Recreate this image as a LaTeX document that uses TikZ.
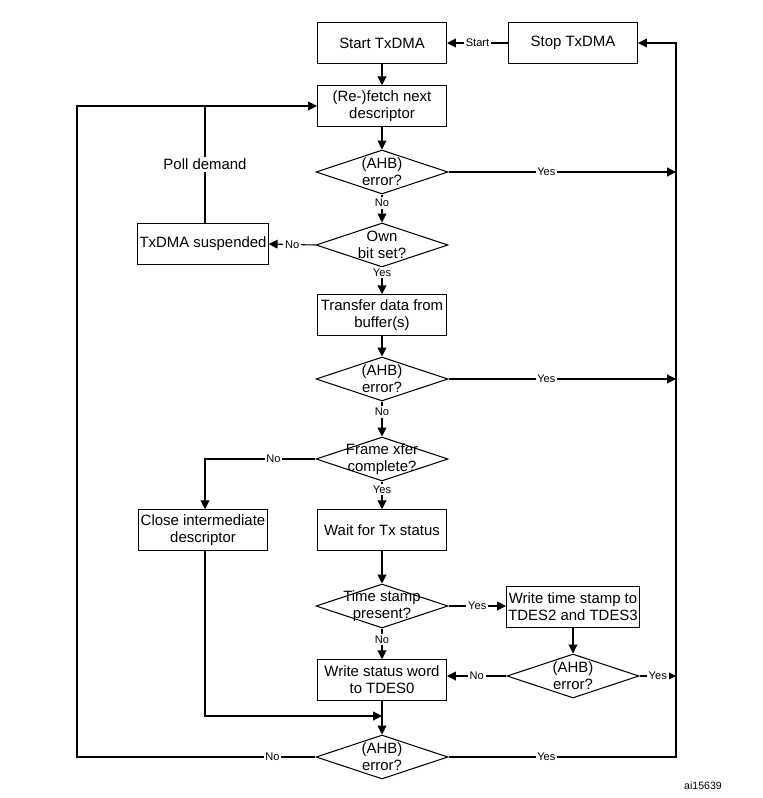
\documentclass[tikz,border=0pt]{standalone}
\usepackage{fontspec}
\setmainfont{Liberation Sans}
\usetikzlibrary{shapes.geometric, arrows.meta, positioning}

\tikzset{
  box/.style={draw, line width=0.6pt, minimum width=2.58cm, minimum height=0.81cm, align=center, inner sep=1pt, font=\fontsize{8.5}{9.6}\selectfont},
  dec/.style={draw, diamond, line width=0.6pt, minimum width=2.64cm, minimum height=0.88cm, inner sep=0pt},
  dtxt/.style={align=center, font=\fontsize{8.5}{9.6}\selectfont},
  lbl/.style={fill=white, inner sep=1pt, font=\fontsize{6.3}{7}\selectfont},
  arr/.style={line width=0.6pt, -{Triangle[length=5pt,width=5pt]}},
  ln/.style={line width=0.6pt}
}

\begin{document}
\begin{tikzpicture}[x=0.02cm, y=-0.02cm]
\useasboundingbox (0,0) rectangle (763,798);

% main column
\node[box] (start) at (382,43) {Start TxDMA};
\node[box] (stop) at (573,43) {Stop TxDMA};
\node[box] (fetch) at (382,106) {(Re-)fetch next\\descriptor};
\node[dec] (ahba) at (382,172) {};
\node[dtxt] (ahbat) at (ahba) {(AHB)\\error?};
\node[dec] (own) at (382,245) {};
\node[dtxt] (ownt) at (own) {Own\\bit set?};
\node[box] (susp) at (203,244) {TxDMA suspended};
\node[box] (xfer) at (382,315) {Transfer data from\\buffer(s)};
\node[dec] (ahbb) at (382,379) {};
\node[dtxt] (ahbbt) at (ahbb) {(AHB)\\error?};
\node[dec] (frame) at (382,459) {};
\node[dtxt] (framet) at (frame) {Frame xfer\\complete?};
\node[box] (close) at (203,530) {Close intermediate\\descriptor};
\node[box] (wait) at (382,530) {Wait for Tx status};
\node[dec] (ts) at (382,606) {};
\node[dtxt] (tst) at (ts) {Time stamp\\present?};
\node[box] (wts) at (573,607) {Write time stamp to\\TDES2 and TDES3};
\node[dec] (ahbc) at (573,676) {};
\node[dtxt] (ahbct) at (ahbc) {(AHB)\\error?};
\node[box] (wsw) at (382,680) {Write status word\\to TDES0};
\node[dec] (ahbd) at (382,757) {};
\node[dtxt] (ahbdt) at (ahbd) {(AHB)\\error?};

% rails
\coordinate (rtop) at (676,43);
\coordinate (ra) at (676,172);
\coordinate (rb) at (676,379);
\coordinate (rc) at (676,676);
\coordinate (rd) at (676,757);
\coordinate (ld) at (77,757);
\coordinate (poll) at (205,106);
\coordinate (merge) at (382,716);
\coordinate (cl) at (205,716);

\draw[arr] (stop) -- node[lbl] {Start} (start);
\draw[arr] (start) -- (fetch);
\draw[arr] (fetch) -- (ahba);
\draw[arr] (ahba) -- node[lbl, pos=0.3] {No} (own);
\draw[arr] (ahba.east) -- node[lbl, pos=0.43] {Yes} (ra);
\draw[arr] (own.west) -- node[lbl] {No} (susp.east);
\draw[ln] (susp.north -| poll) -- node[lbl, font=\fontsize{8.5}{9.6}\selectfont] {Poll demand} (poll);
\draw[arr] (own) -- node[lbl, pos=0.2] {Yes} (xfer);
\draw[arr] (xfer) -- (ahbb);
\draw[arr] (ahbb.east) -- node[lbl, pos=0.43] {Yes} (rb);
\draw[arr] (ahbb) -- node[lbl, pos=0.3] {No} (frame);
\draw[arr] (frame.west) -- node[lbl, pos=0.38] {No} (frame.west -| poll) -- (close.north -| poll);
\draw[arr] (frame) -- node[lbl, pos=0.3] {Yes} (wait);
\draw[arr] (wait) -- (ts);
\draw[arr] (ts.east) -- node[lbl] {Yes} (wts.west |- ts.east);
\draw[arr] (ts) -- node[lbl, pos=0.35] {No} (wsw);
\draw[arr] (wts) -- (ahbc);
\draw[arr] (ahbc.west) -- node[lbl] {No} (wsw.east |- ahbc.west);
\draw[arr] (ahbc.east) -- node[lbl] {Yes} (rc);
\draw[arr] (close.south -| cl) -- (cl) -- (merge);
\draw[arr] (wsw) -- (ahbd);
\draw[arr] (ahbd.west) -- node[lbl, pos=0.18] {No} (ld) |- (fetch.west);
\draw[arr] (ahbd.east) -- node[lbl, pos=0.43] {Yes} (rd) -- (rtop) -- (stop.east);

\node[font=\fontsize{6}{7}\selectfont] (ref) at (703,786) {ai15639};
\end{tikzpicture}
\end{document}
